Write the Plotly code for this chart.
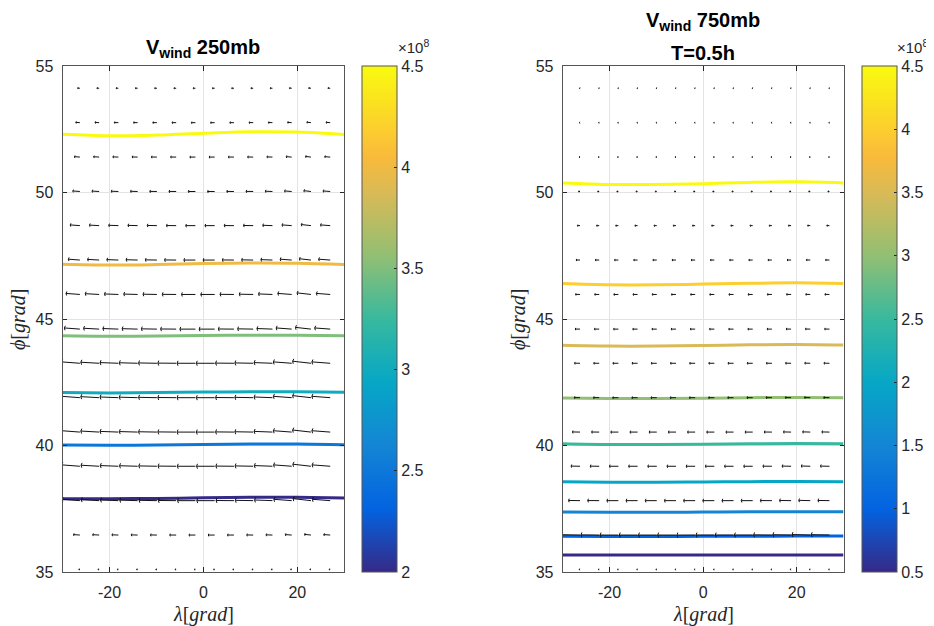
import numpy as np
import plotly.graph_objects as go
from plotly.colors import sample_colorscale

# ---------------- data ----------------
lon_grid = [-26.3, -22.2, -18.1, -14.0, -9.9, -5.8, -1.7, 2.4, 6.5, 10.6, 14.7, 18.8, 22.9, 27.0]
lat_grid = [35.10, 36.46, 37.82, 39.18, 40.53, 41.89, 43.25, 44.60, 45.97, 47.33, 48.69, 50.04, 51.40, 52.76, 54.12]

# westward wind speed per latitude row (arrow length, degrees of longitude)
speed_250 = [0.2, 1.35, 3.8, 3.85, 3.9, 3.9, 3.9, 3.3, 2.95, 2.45, 2.05, 1.5, 1.15, 0.85, 0.45]
speed_750 = [0.15, 3.9, 2.45, 1.9, 1.6, 1.2, 1.15, 1.0, 0.95, 0.8, 0.55, 0.3, 0.15, 0.1, 0.08]
# northward turn of the wind per longitude column (degrees)
tilt_250 = [0.8, 0.6, 0.4, 0.3, 0.2, 0.1, 0.0, 0.0, 0.1, 0.2, 0.4, 0.8, 1.2, 0.8]
tilt_750 = [0.2, 0.1, 0.0, 0.0, 0.0, 0.0, 0.0, 0.0, 0.0, 0.0, 0.1, 0.2, 0.3, 0.2]

# contour lines: latitude of each level at these longitudes
contour_lon = [-30, -20, -10, 0, 10, 20, 30]
levels_250 = [2.0, 2.5, 3.0, 3.5, 4.0, 4.5]
contour_lat_250 = [
    [37.90, 37.90, 37.91, 37.93, 37.95, 37.95, 37.92],
    [40.02, 40.01, 40.02, 40.04, 40.06, 40.06, 40.03],
    [42.09, 42.08, 42.09, 42.11, 42.12, 42.12, 42.10],
    [44.34, 44.32, 44.33, 44.35, 44.36, 44.36, 44.34],
    [47.16, 47.13, 47.15, 47.19, 47.21, 47.20, 47.15],
    [52.30, 52.24, 52.27, 52.34, 52.40, 52.39, 52.29],
]
levels_750 = [0.5, 1.0, 1.5, 2.0, 2.5, 3.0, 3.5, 4.0, 4.5]
contour_lat_750 = [
    [35.67, 35.67, 35.67, 35.67, 35.67, 35.67, 35.67],
    [36.41, 36.40, 36.40, 36.41, 36.41, 36.42, 36.42],
    [37.37, 37.36, 37.36, 37.37, 37.38, 37.38, 37.38],
    [38.57, 38.55, 38.55, 38.56, 38.57, 38.58, 38.57],
    [40.07, 40.04, 40.04, 40.05, 40.07, 40.08, 40.07],
    [41.88, 41.86, 41.86, 41.87, 41.89, 41.90, 41.89],
    [43.96, 43.93, 43.93, 43.95, 43.98, 43.99, 43.97],
    [46.40, 46.35, 46.35, 46.38, 46.41, 46.43, 46.40],
    [50.38, 50.32, 50.32, 50.35, 50.40, 50.42, 50.38],
]
crange_250 = [2.0, 4.5]
crange_750 = [0.5, 4.5]
cticks_250 = [2, 2.5, 3, 3.5, 4, 4.5]
cticks_750 = [0.5, 1, 1.5, 2, 2.5, 3, 3.5, 4, 4.5]
lat_ticks = [35, 40, 45, 50, 55]
lon_ticks = [-20, 0, 20]
lon_ticktext = ["-20", "0", "20"]

# ---------------- style / layout ----------------
W, H = 934, 626
OFF = 8  # page body margin


def px(x):
    return (x - OFF) / W


def py(y):
    return (H - (y - OFF)) / H


XR = [-30, 30]
YR = [35, 55]
dom_left = [px(62.5), px(344.3)]
dom_right = [px(562.7), px(843.5)]
dom_y = [py(572), py(66)]

parula = [
    [0.0, "#352a87"], [0.125, "#0363e1"], [0.25, "#1485d4"], [0.375, "#06a7c6"],
    [0.5, "#38b99e"], [0.625, "#92bf73"], [0.75, "#d9ba56"], [0.82, "#f9ba3b"],
    [0.875, "#fcce2e"], [1.0, "#f9fb0e"],
]

TXT = "#262626"
AX = "#555555"
GRID = "#e3e3e3"
SANS = "Liberation Sans, Arial"

fig = go.Figure()


def quiver(xdom, speeds, tilts, xa, ya):
    pxx = (xdom[1] - xdom[0]) * W / (XR[1] - XR[0])
    pxy = (dom_y[1] - dom_y[0]) * H / (YR[1] - YR[0])
    xs, ys = [], []
    for j, lat in enumerate(lat_grid):
        for i, lon in enumerate(lon_grid):
            t = np.deg2rad(tilts[i])
            u = -speeds[j] * np.cos(t)
            v = speeds[j] * np.sin(t)
            hx, hy = lon + u, lat + v
            xs += [lon, hx, None]
            ys += [lat, hy, None]
            # arrow head barbs (pixel space)
            dx, dy = u * pxx, v * pxy
            L = np.hypot(dx, dy)
            if L > 0:
                ang = np.arctan2(dy, dx)
                bl = 0.1 * L + 0.8
                for s in (1, -1):
                    a = ang + np.pi - s * np.deg2rad(70)
                    bx = hx + bl * np.cos(a) / pxx
                    by = hy + bl * np.sin(a) / pxy
                    xs += [hx, bx, None]
                    ys += [hy, by, None]
    fig.add_trace(go.Scatter(x=xs, y=ys, mode="lines", line=dict(color="#111111", width=1),
                             hoverinfo="skip", showlegend=False, xaxis=xa, yaxis=ya))


def contours(levels, lats, crange, xa, ya):
    for lev, lat in zip(levels, lats):
        col = sample_colorscale(parula, [(lev - crange[0]) / (crange[1] - crange[0])])[0]
        fig.add_trace(go.Scatter(x=contour_lon, y=lat, mode="lines",
                                 line=dict(color=col, width=3, shape="spline", smoothing=1.0),
                                 showlegend=False, xaxis=xa, yaxis=ya))


def cbar_dummy(crange, cax, xa, ya):
    fig.add_trace(go.Scatter(x=[0, 0], y=[45, 45], mode="markers",
                             marker=dict(color=crange, coloraxis=cax, size=1, opacity=0),
                             showlegend=False, hoverinfo="skip", xaxis=xa, yaxis=ya))


contours(levels_250, contour_lat_250, crange_250, "x", "y")
quiver(dom_left, speed_250, tilt_250, "x", "y")
cbar_dummy(crange_250, "coloraxis", "x", "y")
contours(levels_750, contour_lat_750, crange_750, "x2", "y2")
quiver(dom_right, speed_750, tilt_750, "x2", "y2")
cbar_dummy(crange_750, "coloraxis2", "x2", "y2")

axis_common = dict(showline=True, linecolor=AX, linewidth=1, mirror="ticks",
                   ticks="inside", tickcolor=TXT, showgrid=True, gridcolor=GRID, gridwidth=1,
                   zeroline=False, tickfont=dict(family=SANS, size=16, color=TXT),
                   fixedrange=True, automargin=False)


def cbar(x, ticks):
    return dict(x=x, xanchor="left", y=dom_y[0], yanchor="bottom",
                len=dom_y[1] - dom_y[0], lenmode="fraction", thickness=35,
                xpad=0, ypad=0, outlinecolor=AX, outlinewidth=1,
                tickvals=ticks, ticktext=[f"{t:g}" for t in ticks],
                ticks="inside", ticklen=3, tickcolor=TXT,
                tickfont=dict(family=SANS, size=16, color=TXT))


fig.update_layout(
    width=W, height=H, margin=dict(l=0, r=0, t=0, b=0, autoexpand=False),
    paper_bgcolor="white", plot_bgcolor="white",
    xaxis=dict(domain=dom_left, range=XR, tickvals=lon_ticks, ticktext=lon_ticktext, ticklen=5,
               anchor="y", ticklabelstandoff=6, **axis_common),
    yaxis=dict(domain=dom_y, range=YR, tickvals=lat_ticks, ticklen=4, anchor="x",
               ticklabelstandoff=5, **axis_common),
    xaxis2=dict(domain=dom_right, range=XR, tickvals=lon_ticks, ticktext=lon_ticktext, ticklen=5,
                anchor="y2", ticklabelstandoff=6, **axis_common),
    yaxis2=dict(domain=dom_y, range=YR, tickvals=lat_ticks, ticklen=4, anchor="x2",
                ticklabelstandoff=5, **axis_common),
    coloraxis=dict(colorscale=parula, cmin=crange_250[0], cmax=crange_250[1],
                   colorbar=cbar(px(361.7), cticks_250)),
    coloraxis2=dict(colorscale=parula, cmin=crange_750[0], cmax=crange_750[1],
                    colorbar=cbar(px(861.7), cticks_750)),
)

title_font = dict(family=SANS, size=20, color="#000000")
label_font = dict(family="Liberation Serif, DejaVu Serif", size=20, color=TXT)
exp_font = dict(family=SANS, size=15, color=TXT)


def a(text, x, y, font, xanchor="center", **kw):
    return dict(text=text, x=x, y=y, xref="paper", yref="paper", xanchor=xanchor,
                yanchor="middle", showarrow=False, font=font, **kw)


ann = [
    a("<b>V<sub>wind</sub> 250mb</b>", sum(dom_left) / 2, py(48), title_font),
    a("<b>V<sub>wind</sub> 750mb</b>", sum(dom_right) / 2, py(22), title_font),
    a("<b>T=0.5h</b>", sum(dom_right) / 2, py(53), title_font),
    a("<i>λ</i>[<i>grad</i>]", sum(dom_left) / 2, py(614), label_font),
    a("<i>λ</i>[<i>grad</i>]", sum(dom_right) / 2, py(614), label_font),
    a("<i>ϕ</i>[<i>grad</i>]", px(18), sum(dom_y) / 2, label_font, textangle=-90),
    a("<i>ϕ</i>[<i>grad</i>]", px(518), sum(dom_y) / 2, label_font, textangle=-90),
    a("×10<sup>8</sup>", px(396), py(47), exp_font, xanchor="left"),
    a("×10<sup>8</sup>", px(895), py(47), exp_font, xanchor="left"),
]
fig.update_layout(annotations=ann)

fig.write_html("out.html")
